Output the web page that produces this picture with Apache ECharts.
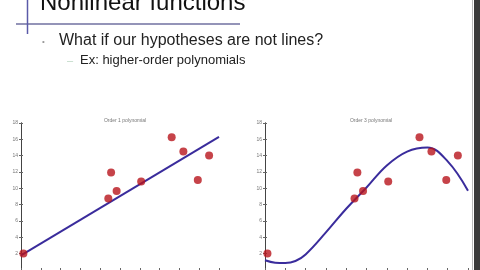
<!DOCTYPE html>
<html><head><meta charset="utf-8">
<script src="https://cdn.jsdelivr.net/npm/echarts@6/dist/echarts.min.js"></script>
<style>html,body{margin:0;padding:0;background:#fff}#c{width:480px;height:270px}</style>
</head><body><div id="c"></div>
<script>
var slideTitle = 'Nonlinear functions';
var bullet1 = 'What if our hypotheses are not lines?';
var bullet2 = 'Ex: higher-order polynomials';
var chartTitles = ['Order 1 polynomial', 'Order 3 polynomial'];
var yTicks = [0, 2, 4, 6, 8, 10, 12, 14, 16, 18];
var pointsX = [0.012, 0.441, 0.455, 0.483, 0.607, 0.761, 0.82, 0.893, 0.95];
var pointsY = [2.03, 8.74, 11.93, 9.67, 10.84, 16.25, 14.5, 11.03, 14.03];
var lineX = [0, 1];
var lineY = [1.8, 16.3];
var curveX = [0, 0.05, 0.1, 0.15, 0.2, 0.3, 0.4, 0.5, 0.6, 0.7, 0.8, 0.9, 1];
var curveY = [1.2, 0.9, 0.85, 1.1, 1.9, 4.6, 7.5, 10.1, 12.8, 14.5, 15.0, 13.3, 9.7];

function pairs(xs, ys) { return xs.map(function (x, i) { return [x, ys[i]]; }); }

var chart = echarts.init(document.getElementById('c'), null, { renderer: 'canvas' });
var grids = [
  { left: 21, width: 198, top: 123, height: 154 },
  { left: 265, width: 203, top: 123, height: 154 }
];
var xAxes = [], yAxes = [];
grids.forEach(function (g, gi) {
  ['bottom', 'top'].forEach(function (pos) {
    xAxes.push({ type: 'value', gridIndex: gi, position: pos, min: 0, max: 1, interval: 0.1,
      axisLine: { lineStyle: { color: '#444', width: 1 } },
      axisTick: { inside: true, length: 2, lineStyle: { color: '#666' } },
      axisLabel: { show: false }, splitLine: { show: false } });
  });
  ['left', 'right'].forEach(function (pos) {
    yAxes.push({ type: 'value', gridIndex: gi, position: pos, min: yTicks[0], max: yTicks[yTicks.length - 1], interval: 2,
      axisLine: { show: true, lineStyle: { color: '#444', width: 1 } },
      axisTick: { show: true, inside: true, length: 2, lineStyle: { color: '#666' } },
      axisLabel: { show: pos === 'left', fontSize: 5, color: '#777', margin: 3, fontFamily: 'Liberation Sans',
        formatter: function (v) { return v === 0 ? '' : String(v); } },
      splitLine: { show: false } });
  });
});

var series = [];
var fits = [pairs(lineX, lineY), pairs(curveX, curveY)];
[0, 1].forEach(function (gi) {
  series.push({ type: 'line', xAxisIndex: gi * 2, yAxisIndex: gi * 2, data: fits[gi], smooth: gi === 1 ? 0.4 : false,
    showSymbol: false, lineStyle: { color: '#3a2c9c', width: 2 }, z: 2 });
  series.push({ type: 'scatter', xAxisIndex: gi * 2, yAxisIndex: gi * 2, data: pairs(pointsX, pointsY),
    symbolSize: 8, itemStyle: { color: '#b8141c' }, z: 3 });
});

chart.setOption({
  animation: false,
  backgroundColor: '#fff',
  title: [
    { text: chartTitles[0], left: 120, top: 113, textAlign: 'center', textStyle: { fontSize: 5, fontWeight: 'normal', color: '#777', fontFamily: 'Liberation Sans' } },
    { text: chartTitles[1], left: 366, top: 113, textAlign: 'center', textStyle: { fontSize: 5, fontWeight: 'normal', color: '#777', fontFamily: 'Liberation Sans' } }
  ],
  grid: grids,
  xAxis: xAxes,
  yAxis: yAxes,
  series: series,
  graphic: [
    { type: 'text', left: 40, top: -9, style: { text: slideTitle, font: '24px "Liberation Sans"', fill: '#111' } },
    { type: 'line', shape: { x1: 16, y1: 24, x2: 240, y2: 24 }, style: { stroke: '#7070a0', lineWidth: 1.5 } },
    { type: 'line', shape: { x1: 27.5, y1: 0, x2: 27.5, y2: 34 }, style: { stroke: '#5a5aa8', lineWidth: 1.5 } },
    { type: 'text', left: 42, top: 38, style: { text: '•', font: '8px "Liberation Sans"', fill: '#999' } },
    { type: 'text', left: 59, top: 33, style: { text: bullet1, font: '16px "Liberation Sans"', fill: '#222' } },
    { type: 'text', left: 67, top: 55, style: { text: '–', font: '11px "Liberation Sans"', fill: '#bcd8c4' } },
    { type: 'text', left: 80, top: 54, style: { text: bullet2, font: '13px "Liberation Sans"', fill: '#222' } },
    { type: 'rect', shape: { x: 474, y: 0, width: 6, height: 270 }, style: { fill: '#3a3a3a' } },
    { type: 'line', shape: { x1: 472.5, y1: 0, x2: 472.5, y2: 270 }, style: { stroke: '#bbb', lineWidth: 1 } }
  ]
});
</script></body></html>
